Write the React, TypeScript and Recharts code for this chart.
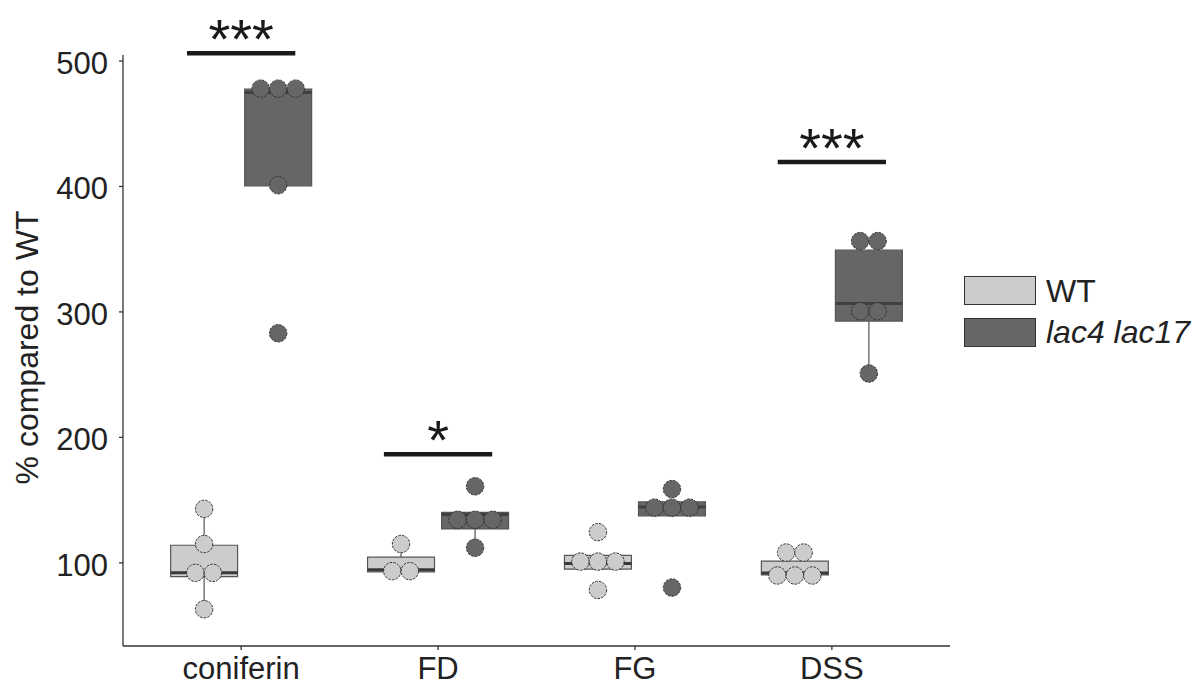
import {
  ComposedChart,
  Scatter,
  XAxis,
  YAxis,
  ReferenceArea,
  ReferenceLine,
  Legend,
  Label,
} from "recharts";

// categories on the x axis
const categories = ["coniferin", "FD", "FG", "DSS"];
const seriesNames = ["WT", "lac4 lac17"];
const seriesFills = ["#cccccc", "#666666"];
const yTicks = [100, 200, 300, 400, 500];

// dot values (as they sit in the dotplot), one list per category
const wtDots = [
  [143, 115, 92, 92, 63],
  [115, 93.4, 93.4],
  [124.5, 101, 101, 101, 78.4],
  [108.2, 108.2, 89.9, 89.9, 89.9],
];
const mutDots = [
  [478, 478, 478, 401, 283],
  [161, 134.3, 134.3, 134.3, 112],
  [158.8, 144, 144, 144, 80.3],
  [356.5, 356.5, 300.6, 300.6, 250.9],
];

// box stats per category
const wtQ1 = [89, 92.8, 95, 90.4];
const wtMedian = [92, 94.4, 99.5, 91.8];
const wtQ3 = [114, 104.5, 106, 101.4];
const wtLow = [63, 92.8, 95, 90.4];
const wtHigh = [143, 115, 106, 101.4];

const mutQ1 = [400.5, 127, 137.5, 292.7];
const mutMedian = [475, 138.6, 144.5, 306.8];
const mutQ3 = [477.6, 140.2, 148.7, 349.2];
const mutLow = [400.5, 112, 137.5, 250.9];
const mutHigh = [477.6, 140.2, 148.7, 349.2];

// significance marks
const sigCategory = [1, 2, 4];
const sigLevel = [506.2, 186.5, 419.6];
const sigStars = ["***", "*", "***"];

const FONT = '"Liberation Sans", Arial, sans-serif';
const DODGE = 0.188;
const BOX_HALF = 0.17;
const DOT_STEP = 0.089;
const SIG_HALF = 0.275;

const stackDots = (groups: number[][], offset: number) => {
  const pts: { x: number; y: number }[] = [];
  groups.forEach((vals, i) => {
    const seen: Record<string, number> = {};
    vals.forEach((v) => {
      const n = vals.filter((w) => w === v).length;
      const k = seen[v] ?? 0;
      seen[v] = k + 1;
      pts.push({ x: i + 1 + offset + (k - (n - 1) / 2) * DOT_STEP, y: v });
    });
  });
  return pts;
};

const wtPoints = stackDots(wtDots, -DODGE);
const mutPoints = stackDots(mutDots, DODGE);

const groups = [
  { off: -DODGE, fill: seriesFills[0], q1: wtQ1, med: wtMedian, q3: wtQ3, lo: wtLow, hi: wtHigh, line: "#3a3a3a" },
  { off: DODGE, fill: seriesFills[1], q1: mutQ1, med: mutMedian, q3: mutQ3, lo: mutLow, hi: mutHigh, line: "#404040" },
];

const Dot = (fill: string) => (props: any) => {
  const { cx, cy } = props;
  if (cx == null || cy == null) return <g />;
  return (
    <circle cx={cx} cy={cy} r={8.7} fill={fill} stroke="#333" strokeWidth={1} strokeDasharray="2.6 1.2" />
  );
};

const YTitle = (props: any) => {
  const vb = props.viewBox || { x: 0, y: 55, width: 123, height: 591 };
  const cx = vb.x + 27;
  const cy = vb.y + vb.height / 2 - 3;
  return (
    <text
      x={cx}
      y={cy}
      transform={`rotate(-90 ${cx} ${cy})`}
      textAnchor="middle"
      dominantBaseline="central"
      fontSize={32}
      fontFamily={FONT}
      fill="#222"
    >
      % compared to WT
    </text>
  );
};

const renderLegend = () => (
  <div style={{ fontFamily: FONT, fontSize: 32, color: "#222" }}>
    {seriesNames.map((name, i) => (
      <div key={name} style={{ display: "flex", alignItems: "center", height: 41.6 }}>
        <div
          style={{
            width: 70,
            height: 27,
            background: seriesFills[i],
            border: "1px solid #333",
            marginRight: 10,
          }}
        />
        <span style={{ fontStyle: i === 1 ? "italic" : "normal", lineHeight: 1 }}>{name}</span>
      </div>
    ))}
  </div>
);

export default function App() {
  return (
    <>
      <style>{`body{margin:0}`}</style>
      <ComposedChart width={1195} height={686} margin={{ top: 55, right: 245, bottom: 0, left: 0 }}>
        <XAxis
          type="number"
          dataKey="x"
          domain={[0.4, 4.6]}
          ticks={[1, 2, 3, 4]}
          allowDataOverflow
          tickFormatter={(v: number) => categories[Math.round(v) - 1] ?? ""}
          height={40}
          tickSize={4}
          tickMargin={7}
          stroke="#333"
          strokeWidth={1.3}
          tick={{ fontSize: 31, fontFamily: FONT, fill: "#222" }}
        />
        <YAxis
          type="number"
          dataKey="y"
          domain={[33.7, 504.8]}
          ticks={yTicks}
          allowDataOverflow
          width={123}
          tickSize={4}
          tickMargin={11}
          stroke="#333"
          strokeWidth={1.3}
          tick={{ fontSize: 31, fontFamily: FONT, fill: "#222", dy: 2 }}
        >
          <Label content={<YTitle />} />
        </YAxis>

        {groups.map((g) =>
          categories.map((_, i) => {
            const cx = i + 1 + g.off;
            return [
              <ReferenceLine
                key={`wl${g.off}${i}`}
                segment={[{ x: cx, y: g.lo[i] }, { x: cx, y: g.q1[i] }]}
                stroke="#555"
                strokeWidth={1.2}
                ifOverflow="visible"
              />,
              <ReferenceLine
                key={`wh${g.off}${i}`}
                segment={[{ x: cx, y: g.q3[i] }, { x: cx, y: g.hi[i] }]}
                stroke="#555"
                strokeWidth={1.2}
                ifOverflow="visible"
              />,
              <ReferenceArea
                key={`b${g.off}${i}`}
                x1={cx - BOX_HALF}
                x2={cx + BOX_HALF}
                y1={g.q1[i]}
                y2={g.q3[i]}
                fill={g.fill}
                fillOpacity={1}
                stroke="#555"
                strokeWidth={1.2}
                ifOverflow="visible"
              />,
              <ReferenceLine
                key={`m${g.off}${i}`}
                segment={[{ x: cx - BOX_HALF, y: g.med[i] }, { x: cx + BOX_HALF, y: g.med[i] }]}
                stroke={g.line}
                strokeWidth={3}
                ifOverflow="visible"
              />,
            ];
          })
        )}

        {sigCategory.map((c, i) => (
          <ReferenceLine
            key={`s${i}`}
            segment={[{ x: c - SIG_HALF, y: sigLevel[i] }, { x: c + SIG_HALF, y: sigLevel[i] }]}
            stroke="#1a1a1a"
            strokeWidth={4.5}
            ifOverflow="visible"
            label={{
              value: sigStars[i],
              position: "top",
              offset: -5,
              fontSize: 56,
              fontFamily: FONT,
              fill: "#1a1a1a",
            }}
          />
        ))}

        <Scatter
          name={seriesNames[0]}
          data={wtPoints}
          fill={seriesFills[0]}
          shape={Dot(seriesFills[0])}
          isAnimationActive={false}
        />
        <Scatter
          name={seriesNames[1]}
          data={mutPoints}
          fill={seriesFills[1]}
          shape={Dot(seriesFills[1])}
          isAnimationActive={false}
        />

        <Legend
          layout="vertical"
          align="center"
          verticalAlign="middle"
          content={renderLegend}
          wrapperStyle={{ left: 964, top: 270, width: 231 }}
        />
      </ComposedChart>
    </>
  );
}
